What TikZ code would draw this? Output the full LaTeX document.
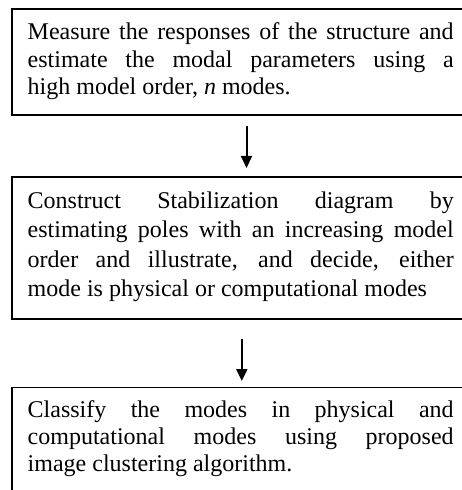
\documentclass[tikz,border=0pt]{standalone}
\usepackage{fontspec}
\setmainfont{Liberation Serif}
\usetikzlibrary{arrows.meta}
\begin{document}
\begin{tikzpicture}[x=1bp,y=-1bp,
  stepbox/.style={draw=black,line width=1.6bp,rectangle,anchor=north west,minimum width=470bp,inner sep=0pt},
  steptext/.style={anchor=base west,inner sep=0pt,text width=426bp,align=justify,
    font=\fontsize{24bp}{#1}\selectfont},
  arr/.style={line width=2bp,-{Triangle[width=11bp,length=12bp]}}]
\useasboundingbox (0,0) rectangle (462,490);
\clip (0,0) rectangle (462,490);
\node[stepbox,minimum height=105.5bp] (b1) at (11,8.5) {};
\node[steptext=27.5bp] (t1) at (27.5,40) {Measure the responses of the structure and\linebreak estimate the modal parameters using a\linebreak high model order, \textit{n} modes.};
\node[stepbox,minimum height=141.5bp] (b2) at (11,176.5) {};
\node[steptext=29.5bp] (t2) at (27.5,208) {Construct Stabilization diagram by\linebreak estimating poles with an increasing model\linebreak order and illustrate, and decide, either\linebreak mode is physical or computational modes};
\node[stepbox,minimum height=130bp] (b3) at (11,386.5) {};
\node[steptext=27bp] (t3) at (27.5,417.5) {Classify the modes in physical and\linebreak computational modes using proposed\linebreak image clustering algorithm.};
\draw[arr] ([xshift=-0.3bp,yshift=-10bp]b1.south) -- ([xshift=-0.3bp,yshift=8.5bp]b2.north);
\draw[arr] ([xshift=-5bp,yshift=-19bp]b2.south) -- ([xshift=-5bp,yshift=5.5bp]b3.north);
\end{tikzpicture}
\end{document}
